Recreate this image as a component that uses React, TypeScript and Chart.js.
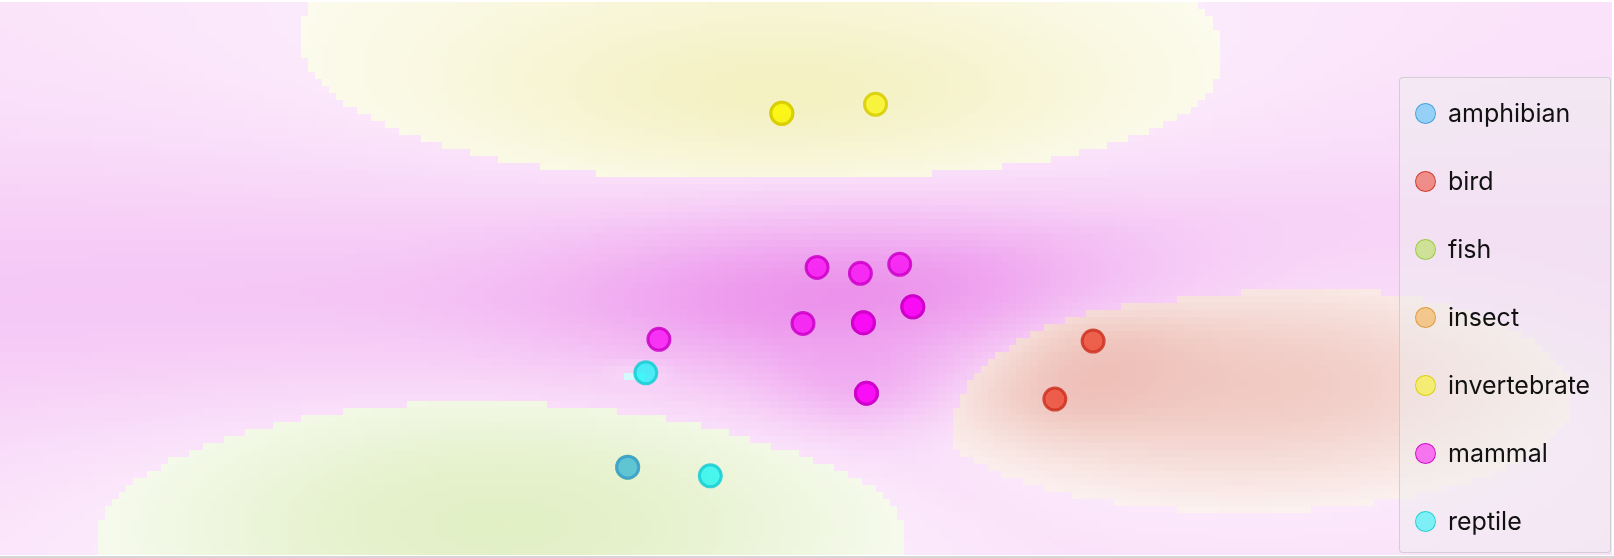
import React, { useEffect, useRef } from 'react';
import { Chart, registerables } from 'chart.js';

Chart.register(...registerables);

// classes, in legend order
const categories = ['amphibian', 'bird', 'fish', 'insect', 'invertebrate', 'mammal', 'reptile'];

// embedded points per class, [x, y] (duplicates sit on top of each other)
const amphibianPoints = [[-1.77, -5.46]];
const birdPoints = [[2.85, -1.81], [2.47, -3.49]];
const fishPoints = [[-1.77, -5.46]];
const insectPoints: number[][] = [];
const invertebratePoints = [[-0.24, 4.78], [-0.24, 4.78], [0.69, 5.04]];
const mammalPoints = [
  [0.11, 0.32], [0.54, 0.15], [0.93, 0.41], [-0.03, -1.3], [0.57, -1.28], [0.57, -1.28],
  [1.06, -0.82], [1.06, -0.82], [-1.46, -1.76], [0.6, -3.32], [0.6, -3.32],
];
const reptilePoints = [[-1.59, -2.73], [-0.95, -5.71]];

// background density per class: [cx, cy, sx, sy, weight]
const amphibianField: number[][] = [];
const birdField = [[4.31, -2.92, 2.56, 2.6, 0.4], [2.85, -1.81, 0.69, 0.87, 0.12], [2.47, -3.49, 0.69, 0.87, 0.12]];
const fishField = [[-3.01, -6.99, 3.02, 3.59, 0.32]];
const insectField: number[][] = [];
const invertebrateField = [[-0.61, 6.76, 4.35, 5.41, 0.2], [-0.06, 5.16, 2.28, 1.74, 0.13]];
const mammalField = [[-2.04, -0.62, 9.93, 3.18, 0.12], [0.54, -0.48, 1.99, 1.59, 0.22], [0.6, -3.23, 0.69, 0.87, 0.1]];
const reptileField = [[-1.69, -2.76, 0.4, 0.41, 0.27]];
const fieldFloor = [0, 0, 0, 0, 0, 0.12, 0];

const axisMin = -8;
const axisMax = 8;

const allPoints = [amphibianPoints, birdPoints, fishPoints, insectPoints, invertebratePoints, mammalPoints, reptilePoints];
const allFields = [amphibianField, birdField, fishField, insectField, invertebrateField, mammalField, reptileField];

// colours
const baseColors = [
  [60, 185, 250], [236, 55, 30], [170, 225, 60], [245, 165, 50], [250, 245, 10], [250, 0, 245], [10, 245, 245],
];
const edgeColors = [
  [55, 160, 215], [205, 50, 35], [150, 200, 55], [215, 150, 55], [215, 205, 0], [205, 0, 200], [25, 205, 212],
];
const regionColors = [
  [50, 160, 230], [212, 95, 75], [148, 198, 45], [230, 150, 60], [214, 204, 35], [210, 0, 210], [0, 220, 230],
];

const rgba = (c: number[], a: number) => `rgba(${c[0]},${c[1]},${c[2]},${a})`;

const GRID_COLS = 230;
const GRID_ROWS = 79;

const fieldPlugin = {
  id: 'densityField',
  beforeDatasetsDraw(chart: any) {
    const { ctx } = chart;
    const xs = chart.scales.x;
    const ys = chart.scales.y;
    const dx = (axisMax - axisMin) / GRID_COLS;
    const dy = (axisMax - axisMin) / GRID_ROWS;
    ctx.save();
    for (let i = 0; i < GRID_COLS; i++) {
      for (let j = 0; j < GRID_ROWS; j++) {
        const vx = axisMin + (i + 0.5) * dx;
        const vy = axisMin + (j + 0.5) * dy;
        let best = 0;
        let first = 0;
        let second = 0;
        allFields.forEach((list, c) => {
          let f = fieldFloor[c];
          for (const [cx, cy, sx, sy, w] of list) {
            f += w * Math.exp(-((vx - cx) ** 2 / (2 * sx * sx) + (vy - cy) ** 2 / (2 * sy * sy)));
          }
          if (f > first) {
            second = first;
            first = f;
            best = c;
          } else if (f > second) {
            second = f;
          }
        });
        const a = Math.max(0, Math.min(1, first - 0.35 * second));
        const x0 = Math.round(xs.getPixelForValue(vx - dx / 2));
        const x1 = Math.round(xs.getPixelForValue(vx + dx / 2));
        const y0 = Math.round(ys.getPixelForValue(vy + dy / 2));
        const y1 = Math.round(ys.getPixelForValue(vy - dy / 2));
        ctx.fillStyle = rgba(regionColors[best], a);
        ctx.fillRect(x0, y0, x1 - x0, y1 - y0);
      }
    }
    ctx.restore();
  },
};

const ScatterChart: React.FC = () => {
  const canvasRef = useRef<HTMLCanvasElement>(null);

  useEffect(() => {
    if (!canvasRef.current) return;
    const chart = new Chart(canvasRef.current, {
      type: 'scatter',
      data: {
        datasets: categories.map((name, i) => ({
          label: name,
          data: allPoints[i].map(([x, y]) => ({ x, y })),
          backgroundColor: rgba(baseColors[i], 0.72),
          borderColor: rgba(edgeColors[i], 0.85),
          borderWidth: 3,
          pointRadius: 11,
          pointHoverRadius: 11,
        })),
      },
      options: {
        animation: false,
        responsive: true,
        maintainAspectRatio: false,
        layout: { padding: 0, autoPadding: false },
        scales: {
          x: { type: 'linear', min: axisMin, max: axisMax, display: false },
          y: { type: 'linear', min: axisMin, max: axisMax, display: false },
        },
        plugins: {
          legend: { display: false },
          tooltip: { enabled: false },
        },
      },
      plugins: [fieldPlugin],
    });
    return () => chart.destroy();
  }, []);

  return <canvas ref={canvasRef} />;
};

const Legend: React.FC = () => (
  <div
    style={{
      position: 'absolute',
      left: 1399,
      top: 77,
      width: 212,
      height: 476,
      boxSizing: 'border-box',
      border: '1px solid rgba(190,190,190,0.6)',
      borderRadius: 4,
      background: 'rgba(238,238,238,0.5)',
      fontFamily: 'Inter, "Noto Sans", sans-serif',
      fontSize: 25,
      color: '#111',
    }}
  >
    {categories.map((name, i) => (
      <div
        key={name}
        style={{
          position: 'absolute',
          left: 0,
          top: 1 + i * 68,
          height: 68,
          display: 'flex',
          alignItems: 'center',
        }}
      >
        <span
          style={{
            display: 'inline-block',
            boxSizing: 'border-box',
            width: 21,
            height: 21,
            marginLeft: 15,
            borderRadius: '50%',
            background: rgba(baseColors[i], 0.5),
            border: `1.5px solid ${rgba(edgeColors[i], 0.9)}`,
          }}
        />
        <span style={{ marginLeft: 12, lineHeight: 1 }}>{name}</span>
      </div>
    ))}
  </div>
);

export default function App() {
  return (
    <>
      <div style={{ position: 'absolute', left: 0, top: 2, width: 1612, height: 553 }}>
        <ScatterChart />
      </div>
      <Legend />
      <div style={{ position: 'absolute', left: 0, top: 556, width: 1614, height: 2, background: '#d6d6d6' }} />
    </>
  );
}
